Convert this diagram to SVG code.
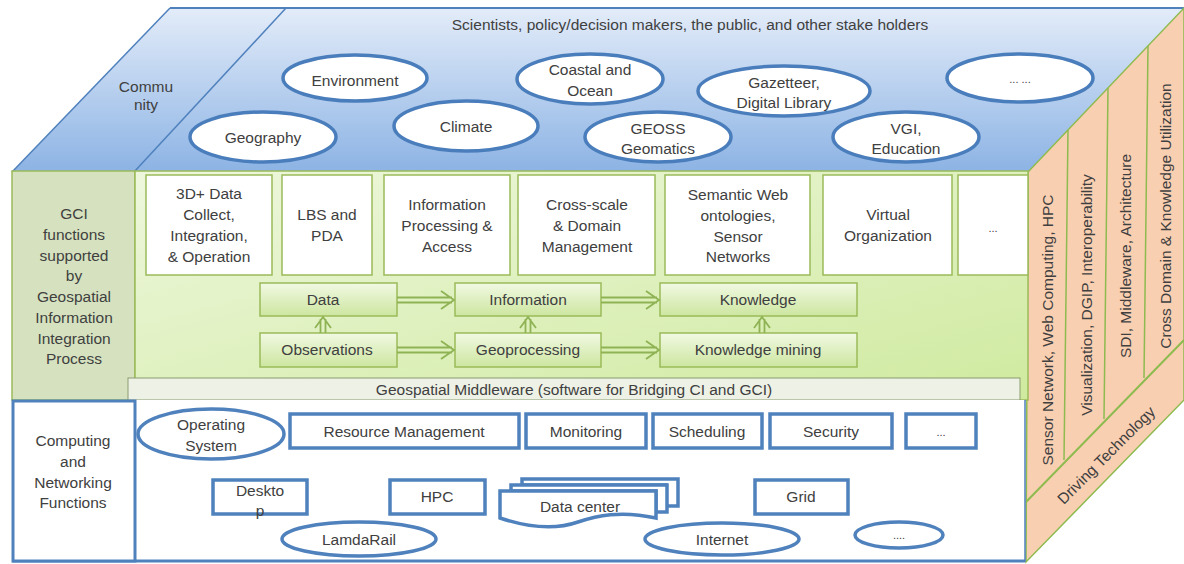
<svg xmlns="http://www.w3.org/2000/svg" width="1184" height="564" viewBox="0 0 1184 564">
<defs>
<linearGradient id="gTop" x1="0" y1="0" x2="0" y2="1">
<stop offset="0" stop-color="#e3ecf9"/>
<stop offset="1" stop-color="#8cb3e4"/>
</linearGradient>
<linearGradient id="gGreen" x1="0" y1="0" x2="1" y2="1">
<stop offset="0" stop-color="#eef7dd"/>
<stop offset="1" stop-color="#cfea9f"/>
</linearGradient>
<linearGradient id="gProc" x1="0" y1="0" x2="0" y2="1">
<stop offset="0" stop-color="#f1f9e3"/>
<stop offset="1" stop-color="#cde6a0"/>
</linearGradient>
<style>
text{font-family:"Liberation Sans",Arial,sans-serif;font-size:15.5px;fill:#404040;text-anchor:middle}
.ell{fill:#fff;stroke:#4a7dbb;stroke-width:3.5}
.wbox{fill:#fff;stroke:#9bbb59;stroke-width:1.5}
.proc{fill:url(#gProc);stroke:#9bbb59;stroke-width:1.5}
.bbox{fill:#fff;stroke:#4f81bd;stroke-width:3.5}
.arr{fill:none;stroke:#8fb354;stroke-width:1.8}
.rface{fill:#f9cfb1;stroke:#8dbb4f;stroke-width:1.5}
</style>
</defs>
<rect width="1184" height="564" fill="#fff"/>

<g id="top-face">
<polygon points="170,8 1184,8 1028,172 12,172" fill="url(#gTop)"/>
<line x1="170" y1="8" x2="1184" y2="8" stroke="#4f81bd" stroke-width="2"/>
<line x1="170" y1="8" x2="12" y2="172" stroke="#4f81bd" stroke-width="1.5"/>
<line x1="286" y1="8" x2="134" y2="172" stroke="#4f81bd" stroke-width="1.5"/>
<text x="146" y="92">Commu</text>
<text x="146" y="110">nity</text>
<text x="690" y="30">Scientists, policy/decision makers, the public, and other stake holders</text>
</g>

<g id="right-face">
<polygon class="rface" points="1028,172 1184,8 1184,400 1026,562"/>
<line x1="1026" y1="502" x2="1184" y2="340" stroke="#8dbb4f" stroke-width="2"/>
<line x1="1068" y1="130" x2="1064" y2="460" stroke="#8dbb4f" stroke-width="1.5"/>
<line x1="1108" y1="88" x2="1104" y2="419" stroke="#8dbb4f" stroke-width="1.5"/>
<line x1="1148" y1="46" x2="1144" y2="378" stroke="#8dbb4f" stroke-width="1.5"/>
<text transform="translate(1053,330) rotate(-90)">Sensor Network, Web Computing, HPC</text>
<text transform="translate(1092,295) rotate(-90)">Visualization, DGIP, Interoperability</text>
<text transform="translate(1131,256) rotate(-90)">SDI, Middleware, Architecture</text>
<text transform="translate(1171,216) rotate(-90)">Cross Domain &amp; Knowledge Utilization</text>
<text transform="translate(1110,459) rotate(-45)">Driving Technology</text>
</g>

<g id="gci-layer">
<rect x="12" y="171" width="123" height="229" fill="#d6e2bf" stroke="#9bbb59" stroke-width="1.5"/>
<rect x="135" y="171" width="893" height="229" fill="url(#gGreen)" stroke="#9bbb59" stroke-width="1.5"/>
<text x="74" y="219">GCI</text>
<text x="74" y="240">functions</text>
<text x="74" y="261">supported</text>
<text x="74" y="281">by</text>
<text x="74" y="302">Geospatial</text>
<text x="74" y="323">Information</text>
<text x="74" y="344">Integration</text>
<text x="74" y="364">Process</text>
</g>

<g id="ell-environment"><ellipse class="ell" cx="355" cy="78" rx="72" ry="23"/><text x="355" y="86">Environment</text></g>
<g id="ell-geography"><ellipse class="ell" cx="263" cy="137" rx="73" ry="25"/><text x="263" y="143">Geography</text></g>
<g id="ell-climate"><ellipse class="ell" cx="466" cy="126" rx="72" ry="25"/><text x="466" y="132">Climate</text></g>
<g id="ell-coastal"><ellipse class="ell" cx="590" cy="79" rx="73" ry="25"/><text x="590" y="75">Coastal and</text><text x="590" y="96">Ocean</text></g>
<g id="ell-geoss"><ellipse class="ell" cx="658" cy="137" rx="73" ry="25"/><text x="658" y="134">GEOSS</text><text x="658" y="154">Geomatics</text></g>
<g id="ell-gazetteer"><ellipse class="ell" cx="784" cy="91" rx="86" ry="25"/><text x="784" y="88">Gazetteer,</text><text x="784" y="108">Digital Library</text></g>
<g id="ell-vgi"><ellipse class="ell" cx="906" cy="137" rx="73" ry="25"/><text x="906" y="134">VGI,</text><text x="906" y="154">Education</text></g>
<g id="ell-more"><ellipse class="ell" cx="1020" cy="78" rx="73" ry="24"/><text x="1020" y="83" style="font-size:11px">... ...</text></g>

<g id="box-3d"><rect class="wbox" x="146" y="175" width="126" height="100"/><text x="209" y="199">3D+ Data</text><text x="209" y="220">Collect,</text><text x="209" y="241">Integration,</text><text x="209" y="262">&amp; Operation</text></g>
<g id="box-lbs"><rect class="wbox" x="282" y="175" width="90" height="100"/><text x="327" y="220">LBS and</text><text x="327" y="241">PDA</text></g>
<g id="box-info-proc"><rect class="wbox" x="384" y="175" width="126" height="100"/><text x="447" y="210">Information</text><text x="447" y="231">Processing &amp;</text><text x="447" y="252">Access</text></g>
<g id="box-cross"><rect class="wbox" x="518" y="175" width="137" height="100"/><text x="587" y="210">Cross-scale</text><text x="587" y="231">&amp; Domain</text><text x="587" y="252">Management</text></g>
<g id="box-semantic"><rect class="wbox" x="665" y="175" width="145" height="100"/><text x="738" y="200">Semantic Web</text><text x="738" y="221">ontologies,</text><text x="738" y="242">Sensor</text><text x="738" y="262">Networks</text></g>
<g id="box-virtual"><rect class="wbox" x="823" y="175" width="129" height="100"/><text x="888" y="220">Virtual</text><text x="888" y="241">Organization</text></g>
<g id="box-more"><rect class="wbox" x="958" y="175" width="70" height="100"/><text x="993" y="232" style="font-size:11px">...</text></g>

<g id="proc-data"><rect class="proc" x="260" y="283" width="137" height="33"/><text x="323" y="305">Data</text></g>
<g id="proc-observations"><rect class="proc" x="260" y="333" width="137" height="34"/><text x="327" y="355">Observations</text></g>
<g id="proc-information"><rect class="proc" x="455" y="283" width="146" height="33"/><text x="528" y="305">Information</text></g>
<g id="proc-geoprocessing"><rect class="proc" x="455" y="333" width="146" height="34"/><text x="528" y="355">Geoprocessing</text></g>
<g id="proc-knowledge"><rect class="proc" x="660" y="283" width="197" height="33"/><text x="758" y="305">Knowledge</text></g>
<g id="proc-mining"><rect class="proc" x="660" y="333" width="197" height="34"/><text x="758" y="355">Knowledge mining</text></g>

<g id="connectors">
<path class="arr" d="M397,297.5 H452 M397,302.5 H452 M441,291 L454,300 L441,309"/>
<path class="arr" d="M397,347.5 H452 M397,352.5 H452 M441,341 L454,350 L441,359"/>
<path class="arr" d="M601,297.5 H657 M601,302.5 H657 M646,291 L659,300 L646,309"/>
<path class="arr" d="M601,347.5 H657 M601,352.5 H657 M646,341 L659,350 L646,359"/>
<path class="arr" d="M320.5,333 V319 M325.5,333 V319 M315,328 L323,317 L331,328"/>
<path class="arr" d="M525.5,333 V319 M530.5,333 V319 M520,328 L528,317 L536,328"/>
<path class="arr" d="M759.5,333 V319 M764.5,333 V319 M754,328 L762,317 L770,328"/>
</g>

<g id="middleware">
<rect x="128" y="378" width="892" height="22" fill="#eef1e6" stroke="#8a9b6e" stroke-width="1"/>
<text x="574" y="395">Geospatial Middleware (software for Bridging CI and GCI)</text>
</g>

<g id="ci-layer">
<rect x="135" y="400" width="890" height="161" fill="#fff"/>
<line x1="12" y1="561" x2="1025" y2="561" stroke="#4f81bd" stroke-width="3"/>
<line x1="1025" y1="400" x2="1025" y2="562" stroke="#4f81bd" stroke-width="1.5"/>
<rect x="13" y="401" width="122" height="160" fill="#fff" stroke="#4f81bd" stroke-width="3"/>
<text x="73" y="446">Computing</text>
<text x="73" y="467">and</text>
<text x="73" y="488">Networking</text>
<text x="73" y="508">Functions</text>
</g>

<g id="ci-os"><ellipse class="bbox" cx="211" cy="434" rx="73" ry="25"/><text x="211" y="430">Operating</text><text x="211" y="451">System</text></g>
<g id="ci-resource"><rect class="bbox" x="290" y="414" width="229" height="34"/><text x="404" y="437">Resource Management</text></g>
<g id="ci-monitoring"><rect class="bbox" x="526" y="414" width="120" height="34"/><text x="586" y="437">Monitoring</text></g>
<g id="ci-scheduling"><rect class="bbox" x="653" y="414" width="109" height="34"/><text x="707" y="437">Scheduling</text></g>
<g id="ci-security"><rect class="bbox" x="770" y="414" width="122" height="34"/><text x="831" y="437">Security</text></g>
<g id="ci-more"><rect class="bbox" x="906" y="414" width="70" height="34"/><text x="941" y="436" style="font-size:11px">...</text></g>
<g id="ci-desktop"><rect class="bbox" x="213" y="480" width="94" height="34"/><text x="260" y="496">Deskto</text><text x="260" y="516">p</text></g>
<g id="ci-hpc"><rect class="bbox" x="390" y="480" width="95" height="34"/><text x="437" y="502">HPC</text></g>
<g id="ci-datacenter">
<path class="bbox" d="M522,479 H678 V506 H666 V485 H522 Z"/>
<path class="bbox" d="M511,485 H667 V512 H656 V491 H511 Z"/>
<path class="bbox" d="M500,491 H656 V518 C620,510 596,516 578,522 C555,530 530,528 500,518 Z"/>
<text x="580" y="512">Data center</text>
</g>
<g id="ci-grid"><rect class="bbox" x="755" y="480" width="93" height="34"/><text x="801" y="502">Grid</text></g>
<g id="ci-lamdarail"><ellipse class="bbox" cx="359" cy="539" rx="77" ry="17"/><text x="359" y="545">LamdaRail</text></g>
<g id="ci-internet"><ellipse class="bbox" cx="722" cy="539" rx="77" ry="16"/><text x="722" y="545">Internet</text></g>
<g id="ci-more2"><ellipse class="bbox" cx="899" cy="535" rx="44" ry="13"/><text x="899" y="539" style="font-size:11px">....</text></g>
</svg>
